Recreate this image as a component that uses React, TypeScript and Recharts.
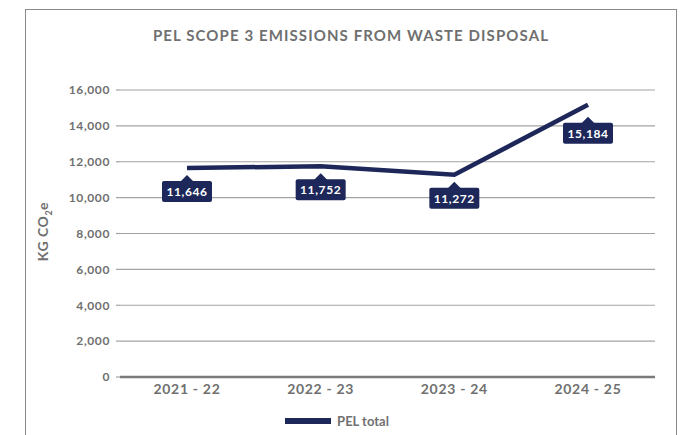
import { CartesianGrid, Label, LabelList, Legend, Line, LineChart, XAxis, YAxis } from "recharts";

const NAVY = "#1d2759";
const GREY_TEXT = "#707070";
const FONT = "Lato, 'Open Sans', sans-serif";

const years = ["2021 - 22", "2022 - 23", "2023 - 24", "2024 - 25"];
const pelTotal = [11646, 11752, 11272, 15184];
const yTicks = [0, 2000, 4000, 6000, 8000, 10000, 12000, 14000, 16000];

const data = years.map((name, i) => ({ name, total: pelTotal[i] }));

// navy tag with a little pointer on top, sitting under each point
const ValueTag = (props: any) => {
  const { x, y, value, index } = props;
  const w = 50;
  const h = 21;
  // last point: the rising segment runs close, so drop the tag a bit
  const extra = index === pelTotal.length - 1 ? 5 : 0;
  const tip = y + 7 + extra;
  const top = y + 13 + extra;
  return (
    <g>
      <path d={`M${x - 7},${top + 1} L${x},${tip} L${x + 7},${top + 1} Z`} fill={NAVY} />
      <rect x={x - w / 2} y={top} width={w} height={h} rx={2} fill={NAVY} />
      <text
        x={x}
        y={top + h / 2 + 4.5}
        textAnchor="middle"
        fill="#ffffff"
        fontSize={12}
        fontWeight={700}
        fontFamily={FONT}
        letterSpacing={0.6}
      >
        {Number(value).toLocaleString("en-US")}
      </text>
    </g>
  );
};

const YTitle = (props: any) => {
  const vb = props.viewBox || { x: 0, y: 0, width: 0, height: 0 };
  const cx = 48;
  const cy = vb.y + vb.height / 2 - 2;
  return (
    <text
      x={cx}
      y={cy}
      transform={`rotate(-90 ${cx} ${cy})`}
      textAnchor="middle"
      fill={GREY_TEXT}
      fontSize={14}
      fontWeight={700}
      fontFamily={FONT}
      letterSpacing={0.5}
    >
      KG CO
      <tspan fontSize={9} dy={4}>2</tspan>
      <tspan dy={-4}>e</tspan>
    </text>
  );
};

const LegendContent = () => (
  <div
    style={{
      display: "flex",
      alignItems: "center",
      justifyContent: "center",
      height: 14,
      paddingLeft: 19,
      fontFamily: FONT,
    }}
  >
    <span style={{ display: "inline-block", width: 46, height: 6, background: NAVY, marginRight: 6 }} />
    <span style={{ fontSize: 13, fontWeight: 700, color: GREY_TEXT, lineHeight: "14px" }}>PEL total</span>
  </div>
);

export default function App() {
  return (
    <div style={{ position: "absolute", left: 0, top: 0, width: 681, height: 435, background: "#fff", overflow: "hidden" }}>
      <div
        style={{
          position: "absolute",
          left: 25,
          top: 9,
          width: 650,
          height: 440,
          borderTop: "1.5px solid #8a8a8a",
          borderLeft: "1.5px solid #8a8a8a",
          borderRight: "1.5px solid #8a8a8a",
        }}
      />
      <div
        style={{
          position: "absolute",
          left: 0,
          width: 702,
          top: 26,
          textAlign: "center",
          fontFamily: FONT,
          fontSize: 15,
          fontWeight: 700,
          color: GREY_TEXT,
          letterSpacing: 1.1,
        }}
      >
        PEL SCOPE 3 EMISSIONS FROM WASTE DISPOSAL
      </div>
      <LineChart
        width={681}
        height={435}
        data={data}
        margin={{ top: 90, right: 26, left: 0, bottom: 7 }}
        style={{ position: "absolute", left: 0, top: 0 }}
      >
        <CartesianGrid vertical={false} stroke="#a3a3a3" strokeWidth={1.2} />
        <XAxis
          dataKey="name"
          height={37}
          padding={{ left: 67, right: 67 }}
          axisLine={{ stroke: "#7a7a7a", strokeWidth: 2.5 }}
          tickLine={false}
          tickMargin={1}
          tick={{ fontSize: 14, fontWeight: 700, fill: GREY_TEXT, fontFamily: FONT, letterSpacing: 0.7 }}
        />
        <YAxis
          width={120}
          domain={[0, 16000]}
          ticks={yTicks}
          interval={0}
          axisLine={false}
          tickLine={{ stroke: "#a3a3a3", strokeWidth: 1.2 }}
          tickSize={4}
          tickMargin={6}
          tickFormatter={(v: number) => v.toLocaleString("en-US")}
          tick={{ fontSize: 12, fontWeight: 700, fill: GREY_TEXT, fontFamily: FONT, letterSpacing: 0.6 }}
        >
          <Label content={<YTitle />} />
        </YAxis>
        <Legend verticalAlign="bottom" align="center" height={14} content={<LegendContent />} />
        <Line
          type="linear"
          dataKey="total"
          name="PEL total"
          stroke={NAVY}
          strokeWidth={4.5}
          dot={false}
          activeDot={false}
          isAnimationActive={false}
        >
          <LabelList dataKey="total" content={<ValueTag />} />
        </Line>
      </LineChart>
    </div>
  );
}
